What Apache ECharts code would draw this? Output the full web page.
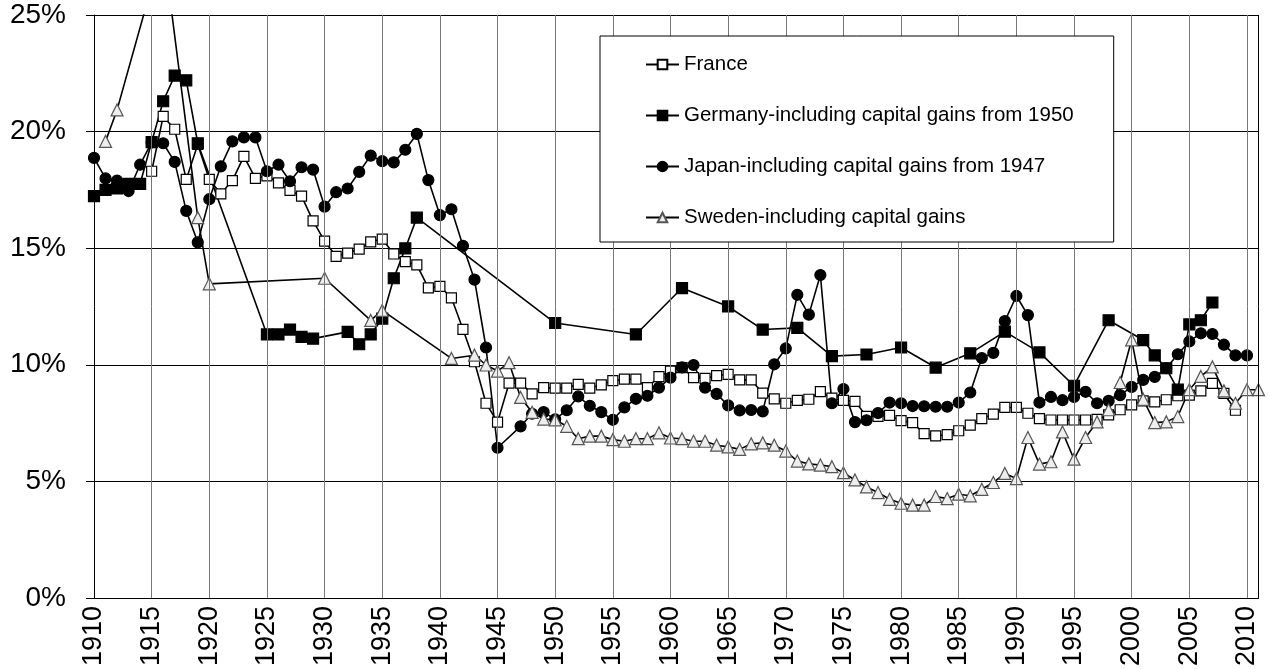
<!DOCTYPE html>
<html>
<head>
<meta charset="utf-8">
<script src="https://cdn.jsdelivr.net/npm/echarts@6/dist/echarts.min.js"></script>
<style>html,body{margin:0;padding:0;background:#fff;}#c{width:1269px;height:669px;}</style>
</head>
<body>
<div id="c"></div>
<script>
var years = [];
for (var y = 1910; y <= 2011; y++) years.push(String(y));

var yTicks = [0, 5, 10, 15, 20, 25];

// France (1910-2011)
var france = [null,null,null,null,null,
  18.3,20.65,20.1,17.95,19.45,
  17.95,17.33,17.9,18.94,17.99,18.1,17.8,17.48,17.23,16.17,
  15.3,14.65,14.79,14.96,15.27,15.39,14.75,14.42,14.28,13.3,
  13.36,12.87,11.52,10.13,8.35,7.54,9.21,9.21,8.75,9.02,
  9.0,9.0,9.16,9.0,9.14,9.32,9.38,9.38,9.02,9.49,
  9.73,9.88,9.45,9.42,9.53,9.59,9.35,9.35,8.78,8.54,
  8.35,8.47,8.52,8.85,8.57,8.47,8.43,7.79,7.79,7.83,
  7.6,7.52,7.05,6.95,7.0,7.17,7.41,7.69,7.88,8.17,
  8.17,7.92,7.69,7.63,7.63,7.63,7.63,7.66,7.85,8.07,
  8.28,8.45,8.41,8.5,8.67,8.7,8.88,9.2,8.77,8.05,
  null,null];

// Germany-including capital gains from 1950
var germany = [17.23,17.5,17.56,17.76,17.76,19.55,21.3,22.4,22.2,19.5,
  null,null,null,null,null,11.3,11.3,11.51,11.2,11.12,
  null,null,11.41,10.88,11.3,11.98,13.71,14.99,16.31,null,
  null,null,null,null,null,null,null,null,null,null,
  11.79,null,null,null,null,null,null,11.3,null,null,
  null,13.29,null,null,null,12.5,null,null,11.51,null,
  null,11.58,null,null,10.37,null,null,10.44,null,null,
  10.74,null,null,9.88,null,null,10.49,null,null,11.42,
  null,null,10.53,null,null,9.1,null,null,11.91,null,
  null,11.06,10.4,9.85,8.93,11.73,11.91,12.67,null,null,
  null,null];

// Japan-including capital gains from 1947
var japan = [18.87,17.99,17.9,17.45,18.58,19.54,19.5,18.7,16.6,15.25,
  17.1,18.51,19.58,19.75,19.75,18.3,18.58,17.87,18.47,18.37,
  16.78,17.4,17.56,18.27,18.97,18.73,18.68,19.22,19.9,17.92,
  16.42,16.67,15.1,13.65,10.74,6.44,null,7.36,7.9,7.97,
  7.66,8.05,8.64,8.24,7.97,7.64,8.17,8.54,8.67,9.02,
  9.45,9.89,9.99,9.02,8.75,8.26,8.04,8.06,8.0,10.02,
  10.7,13.0,12.15,13.85,8.35,8.96,7.54,7.62,7.93,8.38,
  8.35,8.23,8.22,8.2,8.2,8.38,8.81,10.29,10.51,11.87,
  12.95,12.13,8.38,8.62,8.48,8.62,8.84,8.35,8.45,8.7,
  9.05,9.35,9.48,9.85,10.45,11.0,11.35,11.32,10.86,10.4,
  10.4,null];

// Sweden-including capital gains
var sweden = [null,19.58,20.93,null,null,null,28.0,null,null,16.31,
  13.47,null,null,null,null,null,null,null,null,null,
  13.71,null,null,null,11.9,12.33,null,null,null,null,
  null,10.27,null,10.41,9.99,9.73,10.09,8.6,7.96,7.67,
  7.64,7.36,6.83,6.94,6.94,6.79,6.72,6.83,6.83,7.08,
  6.86,6.83,6.72,6.72,6.55,6.48,6.37,6.61,6.65,6.55,
  6.3,5.87,5.75,5.7,5.63,5.37,5.06,4.76,4.52,4.23,
  4.06,3.98,3.98,4.35,4.26,4.45,4.38,4.66,4.95,5.34,
  5.12,6.88,5.74,5.84,7.12,5.95,6.88,7.55,8.07,9.24,
  11.07,8.52,7.52,7.55,7.78,8.93,9.5,9.91,8.88,8.35,
  8.93,8.93];

var seriesNames = ['France', 'Germany-including capital gains from 1950',
  'Japan-including capital gains from 1947', 'Sweden-including capital gains'];

// category indexes of the 5-year vertical gridlines (1915 ... 2010)
var gridIdx = [];
years.forEach(function (s, i) { if (Number(s) % 5 === 0 && i > 0) gridIdx.push(i); });

var FONT = '"Liberation Sans", Arial, sans-serif';
var chart = echarts.init(document.getElementById('c'), null, {renderer: 'canvas'});

function mk(name, data, symbol, size, fill, border) {
  return {
    name: name, type: 'line', data: data, connectNulls: true,
    symbol: symbol, symbolSize: size, showSymbol: true, showAllSymbol: true,
    lineStyle: {color: '#000', width: 1.6},
    itemStyle: {color: fill, borderColor: border, borderWidth: 1.2},
    emphasis: {disabled: true}, animation: false, clip: true
  };
}

var franceSeries = mk(seriesNames[0], france, 'rect', 10, '#fff', '#000');
var mlData = gridIdx.map(function (i) {
  return {xAxis: i, lineStyle: {color: '#777', type: 'solid', width: 1}};
});
mlData.push({xAxis: years.length - 1, lineStyle: {color: '#000', type: 'solid', width: 1}});
franceSeries.markLine = {
  silent: true, animation: false, symbol: ['none', 'none'],
  label: {show: false},
  emphasis: {disabled: true},
  data: mlData
};

chart.setOption({
  animation: false,
  backgroundColor: '#fff',
  grid: {left: 94, right: 10.5, top: 15, bottom: 68},
  legend: {
    orient: 'vertical', left: 600, top: 36, z: 10,
    padding: [18, 40, 14, 45],
    itemWidth: 33, itemHeight: 12, itemGap: 30,
    backgroundColor: '#fff', borderColor: '#000', borderWidth: 1,
    textStyle: {fontFamily: FONT, fontSize: 20.5, color: '#000', lineHeight: 20},
    data: seriesNames
  },
  xAxis: {
    type: 'category', data: years, boundaryGap: false,
    axisLine: {lineStyle: {color: '#000', width: 1}},
    axisTick: {show: false},
    axisLabel: {interval: 4, rotate: 90, fontFamily: FONT, fontSize: 27, color: '#000', margin: 8},
    splitLine: {show: false}
  },
  yAxis: {
    type: 'value', min: yTicks[0], max: yTicks[yTicks.length - 1], interval: 5,
    axisLine: {show: true, lineStyle: {color: '#000', width: 1}},
    axisTick: {show: true, length: 8, lineStyle: {color: '#000'}},
    axisLabel: {formatter: '{value}%', fontFamily: FONT, fontSize: 28, color: '#000', margin: 28},
    splitLine: {show: true, lineStyle: {color: '#000', width: 1}}
  },
  series: [
    franceSeries,
    mk(seriesNames[1], germany, 'rect', 11, '#000', '#000'),
    mk(seriesNames[2], japan, 'circle', 11, '#000', '#000'),
    mk(seriesNames[3], sweden, 'triangle', 12, '#eeeeee', '#555')
  ]
});
</script>
</body>
</html>
